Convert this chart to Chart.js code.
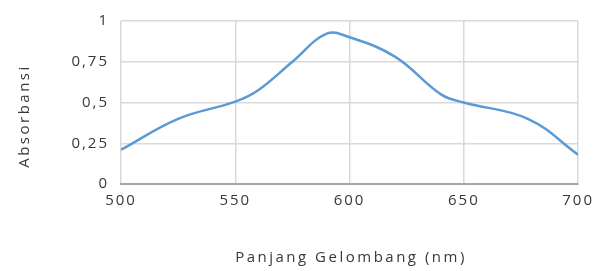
<!DOCTYPE html>
<html>
<head>
<meta charset="utf-8">
<script src="https://cdn.jsdelivr.net/npm/chart.js@4.4.0/dist/chart.umd.min.js"></script>
<style>
  html, body { margin: 0; padding: 0; background: #fff; }
  #wrap { width: 599px; height: 271px; }
</style>
</head>
<body>
<div id="wrap"><canvas id="chart"></canvas></div>
<script>
// data
const wavelength = [500, 525, 550, 560, 575, 590, 600, 620, 640, 650, 678, 700];
const absorbance = [0.21, 0.40, 0.505, 0.575, 0.75, 0.922, 0.90, 0.78, 0.55, 0.50, 0.40, 0.18];
const yTicks = [0, 0.25, 0.5, 0.75, 1];
const yTickLabels = ['0', '0,25', '0,5', '0,75', '1'];
const xTitle = 'Panjang Gelombang (nm)';
const yTitle = 'Absorbansi';

const textColor = '#383838';

// axis titles drawn by hand so they can sit where the original has them
const titlePlugin = {
    id: 'titles',
    beforeDraw(chart) {
        chart.ctx.letterSpacing = '2px';
    },
    afterDraw(chart) {
        const ctx = chart.ctx;
        ctx.save();
        ctx.fillStyle = textColor;
        ctx.font = '15px "Open Sans"';
        ctx.letterSpacing = '2.5px';
        ctx.textAlign = 'center';
        ctx.textBaseline = 'middle';
        ctx.fillText(xTitle, 351, 258);
        ctx.translate(25, 116);
        ctx.rotate(-Math.PI / 2);
        ctx.fillText(yTitle, 0, 0);
        ctx.restore();
    }
};

new Chart(document.getElementById('chart'), {
    type: 'line',
    data: {
        datasets: [{
            data: wavelength.map((x, i) => ({ x: x, y: absorbance[i] })),
            borderColor: '#5b9bd5',
            borderWidth: 2.5,
            pointRadius: 0,
            tension: 0.4,
            fill: false
        }]
    },
    options: {
        responsive: true,
        maintainAspectRatio: false,
        animation: false,
        layout: { padding: { top: 19, right: 18, left: 0, bottom: 0 } },
        plugins: { legend: { display: false }, tooltip: { enabled: false } },
        scales: {
            x: {
                type: 'linear',
                min: 500,
                max: 700,
                ticks: {
                    stepSize: 50,
                    color: textColor,
                    font: { family: 'Open Sans', size: 15 },
                    padding: 8
                },
                grid: { color: '#d9d9d9', lineWidth: 1.5, drawTicks: false },
                border: { color: '#a6a6a6', width: 2 },
                afterFit(scale) { scale.height = 87; }
            },
            y: {
                min: 0,
                max: 1,
                afterBuildTicks(scale) {
                    scale.ticks = yTicks.map(v => ({ value: v }));
                },
                ticks: {
                    color: textColor,
                    font: { family: 'Open Sans', size: 15 },
                    padding: 12,
                    callback: (v) => yTickLabels[yTicks.indexOf(v)]
                },
                grid: { color: '#d9d9d9', lineWidth: 1.5, drawTicks: false },
                border: { display: false },
                afterFit(scale) { scale.width = 121; }
            }
        }
    },
    plugins: [titlePlugin]
});
</script>
</body>
</html>
